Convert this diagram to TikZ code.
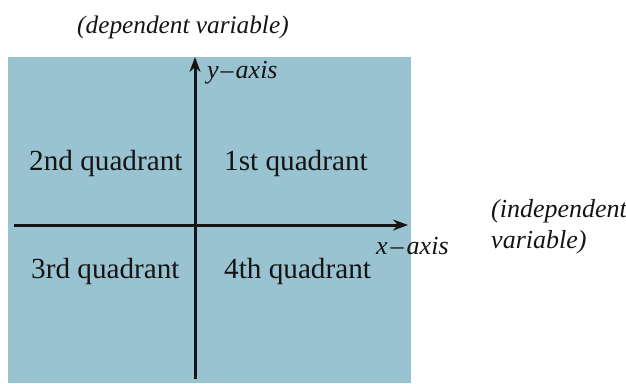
\documentclass[tikz,border=0pt]{standalone}
\usepackage{fontspec}
\setmainfont{Liberation Serif}
\usetikzlibrary{arrows.meta}
\definecolor{quadblue}{RGB}{154,195,209}
\definecolor{axisblack}{RGB}{20,20,20}
\begin{document}
\begin{tikzpicture}[x=1pt,y=-1pt,
  quadlabel/.style={anchor=base west,inner sep=0pt,text=axisblack,font=\fontsize{29.2}{33}\selectfont},
  itlabel/.style={anchor=base west,inner sep=0pt,text=axisblack,font=\fontsize{26}{30}\selectfont\itshape},
  axisline/.style={line width=3pt,draw=axisblack,-{Stealth[length=15pt,width=11pt]}}]
\useasboundingbox (0,0) rectangle (626,383);
\fill[quadblue] (8,57) rectangle (411,383);
\coordinate (xstart) at (14,225);
\coordinate (xend) at (408,225);
\coordinate (ystart) at (195,379);
\coordinate (yend) at (195,57);
\draw[axisline] (xstart) -- (xend);
\draw[axisline] (ystart) -- (yend);
\node[itlabel,font=\fontsize{25.3}{30}\selectfont\itshape] (dep) at (77,33) {(dependent variable)};
\node[itlabel] (yax) at (207,78) {y\kern2pt–\kern2pt axis};
\node[itlabel] (xax) at (376,254) {x\kern3pt–\kern3pt axis};
\node[itlabel] (ind1) at (491,217) {(independent};
\node[itlabel] (ind2) at (491,248) {variable)};
\node[quadlabel] (q2) at (29,170) {2nd quadrant};
\node[quadlabel] (q1) at (224,170) {1st quadrant};
\node[quadlabel] (q3) at (31,278) {3rd quadrant};
\node[quadlabel] (q4) at (224,278) {4th quadrant};
\end{tikzpicture}
\end{document}
